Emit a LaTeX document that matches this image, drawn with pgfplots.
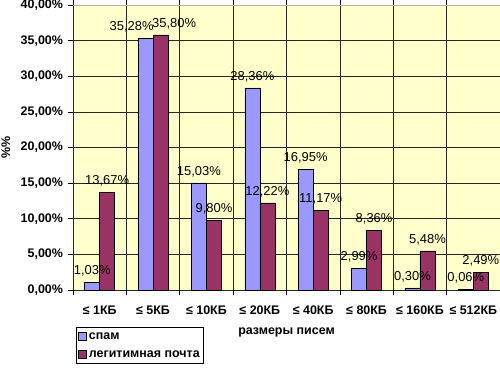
\documentclass[border=0pt]{standalone}
\usepackage{fontspec}
\setmainfont{Liberation Sans}
\usepackage{pgfplots}
\usepackage{pgfplotstable}
\pgfplotsset{compat=1.18}
\definecolor{spamc}{RGB}{153,153,255}
\definecolor{legitc}{RGB}{153,51,102}
\definecolor{bgy}{RGB}{255,255,204}

\pgfplotstableread{
x y dx
0 1.03 0
1 35.28 -14
2 15.03 0
3 28.36 0
4 16.95 0
5 2.99 0
6 0.30 0
7 0.06 0
}\spamtable

\pgfplotstableread{
x y dx
0 13.67 0
1 35.80 13.5
2 9.80 0
3 12.22 0
4 11.17 0
5 8.36 0
6 5.48 0
7 2.49 0
}\legittable

\begin{document}
\begin{tikzpicture}
\useasboundingbox (-73bp,-78bp) rectangle (427bp,290bp);
\begin{axis}[
  at={(0,0)}, anchor=south west,
  scale only axis, width=427bp, height=285bp,
  xmin=-0.5, xmax=7.5, ymin=0, ymax=40,
  ybar=0pt, bar width=15bp,
  axis background/.style={fill=bgy},
  axis line style={draw=none},
  xtick={-0.5,0.5,...,7.5}, xticklabels={},
  ytick={0,5,...,40},
  grid=major,
  major grid style={draw=black!85, line width=0.7bp},
  tick align=outside, major tick length=5bp,
  tick style={black, line width=0.7bp},
  extra x ticks={0,1,2,3,4,5,6,7},
  extra x tick labels={≤ 1КБ,≤ 5КБ,≤ 10КБ,≤ 20КБ,≤ 40КБ,≤ 80КБ,≤ 160КБ,≤ 512КБ},
  extra x tick style={major tick length=0pt, grid=none,
     tick label style={anchor=base, yshift=-24.5bp}},
  x tick label style={font=\bfseries\fontsize{12.5}{15}\selectfont},
  y tick label style={font=\bfseries\fontsize{12.5}{15}\selectfont, xshift=-1.5bp},
  yticklabel={\pgfmathprintnumber[fixed,fixed zerofill,precision=2,use comma,assume math mode=true]{\tick}\%},
  ylabel={\%\%},
  ylabel style={font=\bfseries\fontsize{12.5}{15}\selectfont, at={(axis description cs:-0.157,0.5)}, anchor=center},
  xlabel={размеры писем},
  xlabel style={font=\bfseries\fontsize{12.5}{15}\selectfont, at={(axis description cs:0.5,0)}, anchor=center, yshift=-42bp},
  legend style={at={(axis description cs:0,0)}, anchor=north west, xshift=3bp, yshift=-37bp,
     draw=black, line width=0.7bp, fill=white, font=\bfseries\fontsize{12.5}{15}\selectfont,
     inner xsep=2bp, inner ysep=3bp, row sep=6bp},
  legend cell align=left,
  point meta=y,
  nodes near coords={\pgfmathprintnumber[fixed,fixed zerofill,precision=2,use comma,assume math mode=true]{\pgfplotspointmeta}\%},
  nodes near coords style={font=\fontsize{13}{15}\selectfont, yshift=2.5bp, xshift=\dx bp, black},
]
\addplot[fill=spamc, draw=black, line width=0.6bp,
  visualization depends on={\thisrow{dx}\as\dx},
  legend image code/.code={\draw[fill=spamc, draw=black, line width=0.6bp] (0bp,-4bp) rectangle (8bp,4bp);}]
  table[x=x,y=y] {\spamtable};
\addlegendentry{спам}
\addplot[fill=legitc, draw=black, line width=0.6bp,
  visualization depends on={\thisrow{dx}\as\dx},
  legend image code/.code={\draw[fill=legitc, draw=black, line width=0.6bp] (0bp,-4bp) rectangle (8bp,4bp);}]
  table[x=x,y=y] {\legittable};
\addlegendentry{легитимная почта}
\draw[gray!60, line width=0.7bp] (rel axis cs:0,1) -- (rel axis cs:1,1);
\end{axis}
\end{tikzpicture}
\end{document}
